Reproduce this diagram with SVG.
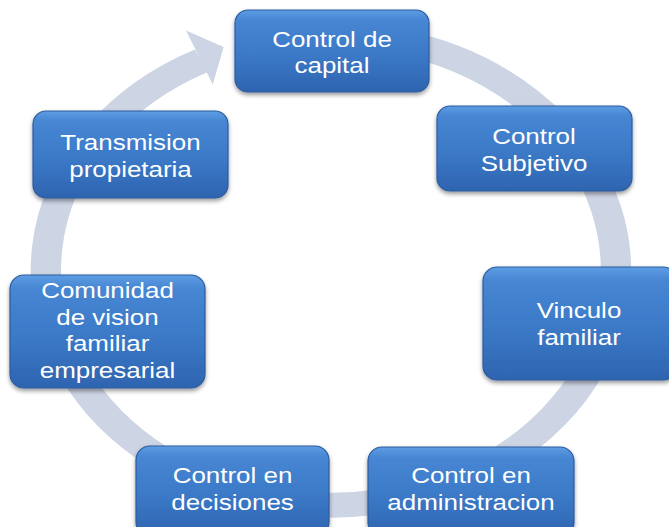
<svg xmlns="http://www.w3.org/2000/svg" width="669" height="527" viewBox="0 0 669 527">
<defs>
<linearGradient id="boxg" x1="0" y1="0" x2="0" y2="1">
<stop offset="0" stop-color="#5d9de3"/>
<stop offset="0.12" stop-color="#4786d3"/>
<stop offset="0.55" stop-color="#3b79c7"/>
<stop offset="1" stop-color="#2e64b0"/>
</linearGradient>
<filter id="sh" x="-10%" y="-10%" width="120%" height="130%">
<feDropShadow dx="0" dy="2.5" stdDeviation="2" flood-color="#000" flood-opacity="0.4"/>
</filter>
<style>
.box{fill:url(#boxg);stroke:#2c5c9e;stroke-width:1.2;filter:url(#sh)}
.t{font-family:"Liberation Sans",Arial,sans-serif;font-size:22px;fill:#fff;text-anchor:middle}
.ring{fill:none;stroke:#cdd4e4;stroke-width:25}
</style>
</defs>
<rect width="669" height="527" fill="#fff"/>
<g id="connectors" transform="translate(331,270) scale(1.2128,1)">
<path class="ring" d="M-56.9,-228 A235,235 0 1 1 -106.7,-209.4"/>
<polygon points="-119.5,-239.5 -88.5,-223 -97.5,-185.5" fill="#cdd4e4"/>
</g>
<g id="n1">
<rect class="box" x="235" y="10" width="194" height="82" rx="13"/>
<text class="t" transform="translate(332,0) scale(1.18,1)"><tspan x="0" y="47">Control de</tspan><tspan x="0" y="73">capital</tspan></text>
</g>
<g id="n2">
<rect class="box" x="437" y="106" width="195" height="85" rx="13"/>
<text class="t" transform="translate(534,0) scale(1.18,1)"><tspan x="0" y="144">Control</tspan><tspan x="0" y="171.5">Subjetivo</tspan></text>
</g>
<g id="n3">
<rect class="box" x="483" y="267" width="194" height="113" rx="14"/>
<text class="t" transform="translate(579,0) scale(1.18,1)"><tspan x="0" y="318">Vinculo</tspan><tspan x="0" y="345">familiar</tspan></text>
</g>
<g id="n4">
<rect class="box" x="368" y="447" width="206" height="90" rx="14"/>
<text class="t" transform="translate(471,0) scale(1.18,1)"><tspan x="0" y="483">Control en</tspan><tspan x="0" y="510">administracion</tspan></text>
</g>
<g id="n5">
<rect class="box" x="136" y="446" width="193" height="90" rx="14"/>
<text class="t" transform="translate(232.5,0) scale(1.18,1)"><tspan x="0" y="483">Control en</tspan><tspan x="0" y="510">decisiones</tspan></text>
</g>
<g id="n6">
<rect class="box" x="10" y="275" width="195" height="113" rx="14"/>
<text class="t" transform="translate(107.5,0) scale(1.18,1)"><tspan x="0" y="298">Comunidad</tspan><tspan x="0" y="325">de vision</tspan><tspan x="0" y="351">familiar</tspan><tspan x="0" y="378">empresarial</tspan></text>
</g>
<g id="n7">
<rect class="box" x="33" y="111" width="195" height="87" rx="13"/>
<text class="t" transform="translate(130.5,0) scale(1.18,1)"><tspan x="0" y="150">Transmision</tspan><tspan x="0" y="177">propietaria</tspan></text>
</g>
</svg>
